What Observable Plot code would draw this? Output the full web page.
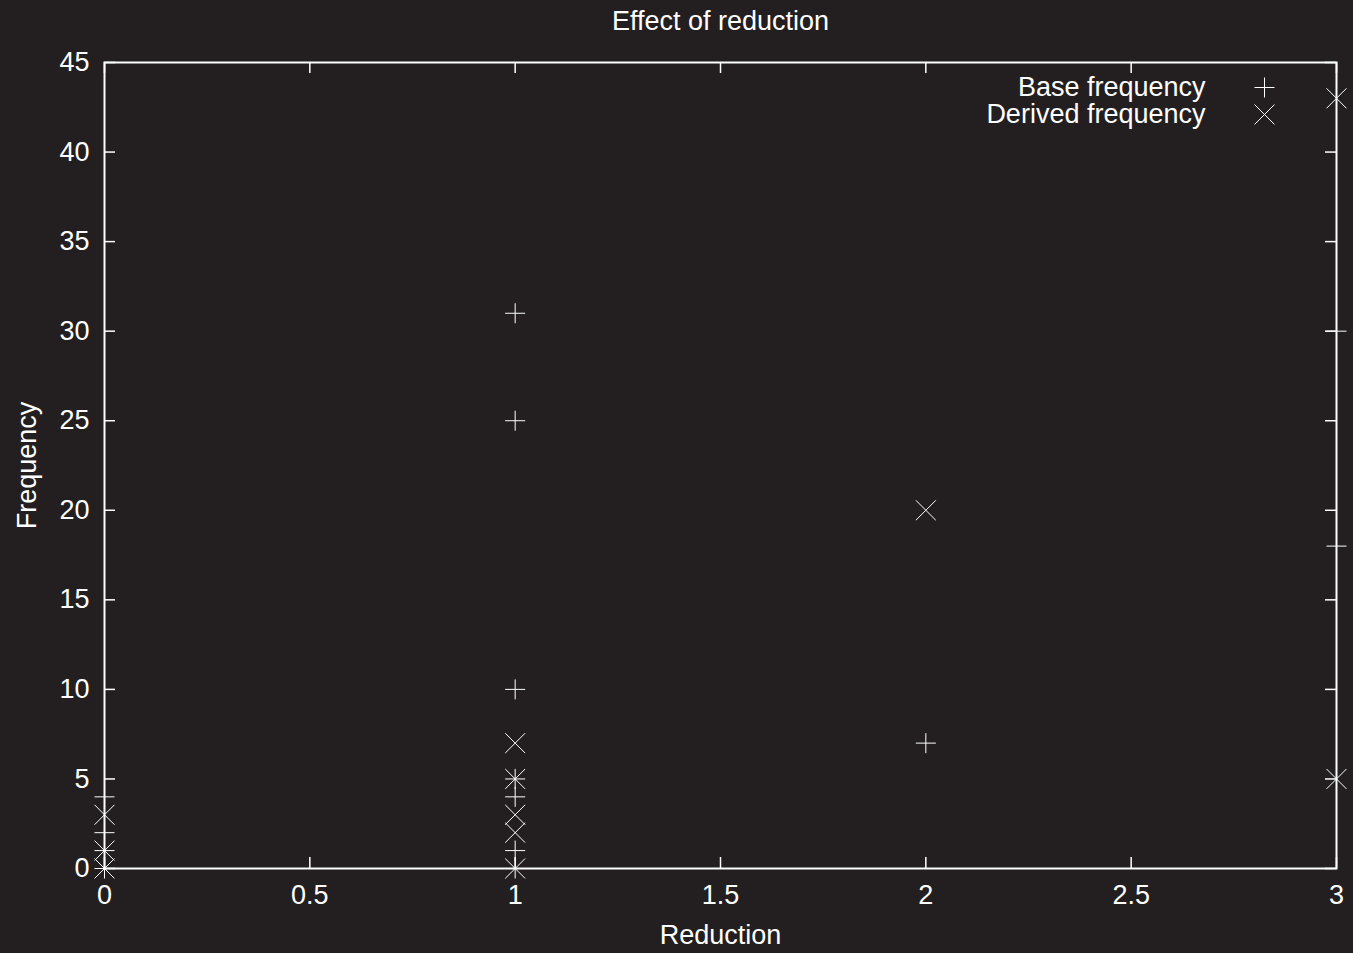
<!DOCTYPE html>
<html>
<head>
<meta charset="utf-8">
<script src="https://cdn.jsdelivr.net/npm/d3@7"></script>
<script src="https://cdn.jsdelivr.net/npm/@observablehq/plot@0.6"></script>
<style>
  html, body { margin: 0; padding: 0; background: #231f20; }
  #chart svg { display: block; }
</style>
</head>
<body>
<div id="chart"></div>
<script>
// Data
const baseX = [0, 0, 0, 0, 1, 1, 1, 1, 1, 1, 1, 2, 3, 3];
const baseY = [0, 1, 2, 4, 0, 1, 4, 5, 10, 25, 31, 7, 18, 30];
const derivedX = [0, 0, 0, 1, 1, 1, 1, 1, 2, 3, 3];
const derivedY = [0, 1, 3, 0, 2, 3, 5, 7, 20, 5, 43];
const xTicks = [0, 0.5, 1, 1.5, 2, 2.5, 3];
const yTicks = [0, 5, 10, 15, 20, 25, 30, 35, 40, 45];
const seriesNames = ["Base frequency", "Derived frequency"];
const titleText = "Effect of reduction";
const xLabel = "Reduction";
const yLabel = "Frequency";

const base = baseX.map((x, i) => ({x, y: baseY[i]}));
const derived = derivedX.map((x, i) => ({x, y: derivedY[i]}));

const W = 1353, H = 953;
const mL = 104, mR = 17, mT = 62, mB = 85;
const fw = W - mL - mR, fh = H - mT - mB;
const tick = 11;
const fs = 27;

const chart = Plot.plot({
  width: W,
  height: H,
  marginLeft: mL,
  marginRight: mR,
  marginTop: mT,
  marginBottom: mB,
  style: {
    background: "#231f20",
    color: "white",
    fontFamily: "'Liberation Sans', Arial, Helvetica, sans-serif",
    fontSize: fs + "px"
  },
  x: {domain: [0, 3]},
  y: {domain: [0, 45]},
  marks: [
    Plot.axisX({ticks: xTicks, tickSize: 0, tickPadding: 16, tickFormat: d => String(d), label: null, fontSize: fs}),
    Plot.axisY({ticks: yTicks, tickSize: 0, tickPadding: 15, tickFormat: d => String(d), label: null, fontSize: fs}),
    Plot.tickX(xTicks, {x: d => d, stroke: "white", strokeWidth: 1.5, insetTop: fh - tick}),
    Plot.tickX(xTicks, {x: d => d, stroke: "white", strokeWidth: 1.5, insetBottom: fh - tick}),
    Plot.tickY(yTicks, {y: d => d, stroke: "white", strokeWidth: 1.5, insetRight: fw - tick}),
    Plot.tickY(yTicks, {y: d => d, stroke: "white", strokeWidth: 1.5, insetLeft: fw - tick}),
    Plot.frame({stroke: "white", strokeWidth: 2}),
    Plot.dot(base, {x: "x", y: "y", symbol: "plus", r: 6.5, stroke: "white", strokeWidth: 1, clip: false}),
    Plot.dot(derived, {x: "x", y: "y", symbol: "times", r: 9.1, stroke: "white", strokeWidth: 1, clip: false}),
    // legend (inside frame, top-right)
    Plot.text([seriesNames[0]], {text: d => d, frameAnchor: "top-right", textAnchor: "end", lineAnchor: "middle", dx: -131, dy: 25, fill: "white", fontSize: fs}),
    Plot.text([seriesNames[1]], {text: d => d, frameAnchor: "top-right", textAnchor: "end", lineAnchor: "middle", dx: -131, dy: 52, fill: "white", fontSize: fs}),
    Plot.dot([seriesNames[0]], {frameAnchor: "top-right", symbol: "plus", r: 6.5, stroke: "white", strokeWidth: 1, dx: -72, dy: 25}),
    Plot.dot([seriesNames[1]], {frameAnchor: "top-right", symbol: "times", r: 9.1, stroke: "white", strokeWidth: 1, dx: -72, dy: 52}),
    // title and axis labels
    Plot.text([titleText], {text: d => d, frameAnchor: "top", textAnchor: "middle", lineAnchor: "middle", dy: -41, fill: "white", fontSize: fs}),
    Plot.text([xLabel], {text: d => d, frameAnchor: "bottom", textAnchor: "middle", lineAnchor: "middle", dy: 67, fill: "white", fontSize: fs}),
    Plot.text([yLabel], {text: d => d, frameAnchor: "left", textAnchor: "middle", lineAnchor: "middle", rotate: -90, dx: -77, fill: "white", fontSize: fs})
  ]
});
document.getElementById("chart").appendChild(chart);
</script>
</body>
</html>
